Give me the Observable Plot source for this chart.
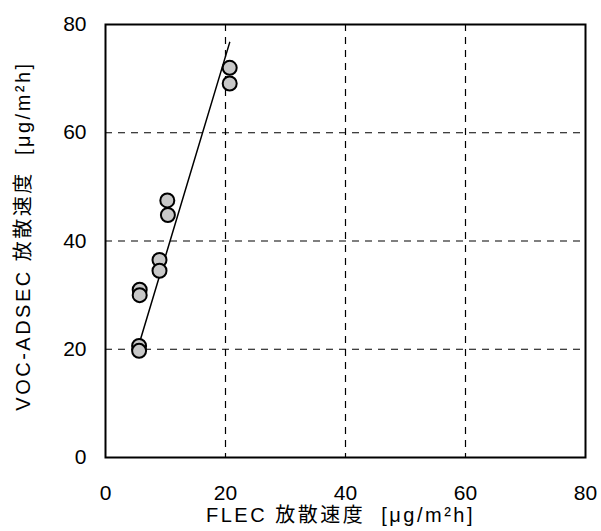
<!DOCTYPE html>
<html><head><meta charset="utf-8">
<script src="https://cdn.jsdelivr.net/npm/d3@7"></script>
<script src="https://cdn.jsdelivr.net/npm/@observablehq/plot@0.6"></script>
<style>
body{margin:0;background:#fff;}
svg{font-family:"Liberation Sans",Arial,"Noto Sans CJK JP",sans-serif;}
</style></head><body><div id="chart"></div>
<script>
const flec = [10.3, 10.4, 9.0, 9.0, 5.7, 5.7, 5.6, 5.6, 20.7, 20.7];
const adsec = [47.5, 44.8, 36.5, 34.5, 31.0, 30.0, 20.6, 19.7, 72.0, 69.1];
const fitX = [5.8, 20.7];
const fitY = [21.7, 76.7];
const ticks = [0, 20, 40, 60, 80];
const gridTicks = [20, 40, 60];
const xLabel = "FLEC 放散速度\u00a0\u00a0[μg/m²h]";
const yLabel = "VOC-ADSEC 放散速度\u00a0\u00a0[μg/m²h]";

const pts = flec.map((x, i) => ({x, y: adsec[i]}));
const fit = fitX.map((x, i) => ({x, y: fitY[i]}));

const chart = Plot.plot({
  width: 601, height: 531,
  marginLeft: 105, marginRight: 16, marginTop: 24, marginBottom: 74,
  style: {fontFamily: '"Liberation Sans",Arial,"Noto Sans CJK JP",sans-serif', fontSize: "20px", color: "#000", background: "#fff"},
  x: {domain: [0, 80]},
  y: {domain: [0, 80]},
  marks: [
    Plot.ruleX(gridTicks, {stroke: "#000", strokeWidth: 1.2, strokeDasharray: "7,6"}),
    Plot.ruleY(gridTicks, {stroke: "#000", strokeWidth: 1.2, strokeDasharray: "7,6"}),
    Plot.axisX({ticks, tickSize: 0, tickPadding: 28, fontSize: 21, label: null}),
    Plot.axisY({ticks, tickSize: 0, tickPadding: 19, fontSize: 21, label: null}),
    Plot.text([xLabel], {frameAnchor: "bottom", dx: -5, dy: 64, fontSize: 20, className: "axlabel"}),
    Plot.text([yLabel], {frameAnchor: "left", textAnchor: "middle", dx: -82, dy: -5, rotate: -90, fontSize: 20, className: "axlabel"}),
    Plot.line(fit, {x: "x", y: "y", stroke: "#000", strokeWidth: 1.5}),
    Plot.dot(pts, {x: "x", y: "y", r: 7, fill: "#c8c8c8", stroke: "#000", strokeWidth: 2}),
    Plot.frame({stroke: "#000", strokeWidth: 2})
  ]
});
d3.select(chart).selectAll(".axlabel text").attr("letter-spacing", "2.5px");
document.getElementById("chart").appendChild(chart);
</script></body></html>
